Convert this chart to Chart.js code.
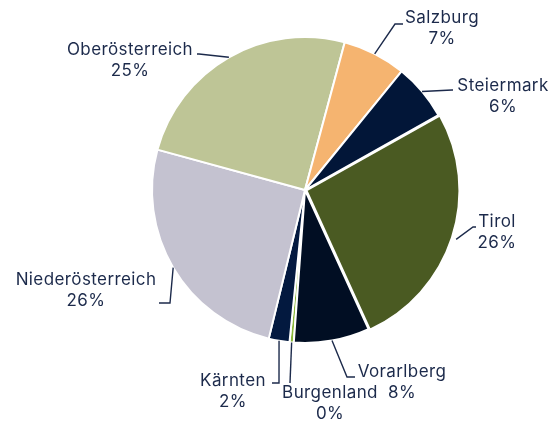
<!DOCTYPE html>
<html>
<head>
<meta charset="utf-8">
<script src="https://cdn.jsdelivr.net/npm/chart.js@4"></script>
<style>
  html, body { margin: 0; padding: 0; background: #fff; }
  #wrap { width: 560px; height: 421px; }
</style>
</head>
<body>
<div id="wrap"><canvas id="pieChart" width="560" height="421"></canvas></div>
<script>
const regions = ['Burgenland', 'Kärnten', 'Niederösterreich', 'Oberösterreich', 'Salzburg', 'Steiermark', 'Tirol', 'Vorarlberg'];
const shares = [0.45, 2.2, 25.5, 25, 6.7, 6, 26.4, 8];
const shareLabels = ['0%', '2%', '26%', '25%', '7%', '6%', '26%', '8%'];

const sliceColors = ['#8bb83a', '#03193f', '#c4c2d0', '#bec596', '#f5b470', '#021638', '#4a5a22', '#010e23'];
const textColor = '#1c2a4b';

// where each label sits: elbow of leader line, end of leader, text centre
const labelLayout = [
  { elbow: [290, 383], end: [290, 383], text: [330, 393] },
  { elbow: [279, 383], end: [272, 383], text: [233, 381] },
  { elbow: [170, 303], end: [159, 303], text: [86, 280] },
  { elbow: [199, 54], end: [197, 54], text: [130, 50] },
  { elbow: [395, 24], end: [403, 24], text: [442, 18] },
  { elbow: [452, 90], end: [453, 90], text: [503, 86] },
  { elbow: [473, 227], end: [476, 227], text: [497, 222] },
  { elbow: [347, 377], end: [355, 377], text: [402, 372] }
];

const leaderLabels = {
  id: 'leaderLabels',
  afterDatasetsDraw(chart) {
    const ctx = chart.ctx;
    const arcs = chart.getDatasetMeta(0).data;
    ctx.save();
    arcs.forEach((arc, i) => {
      const p = arc.getProps(['x', 'y', 'startAngle', 'endAngle', 'outerRadius'], true);
      const mid = (p.startAngle + p.endAngle) / 2;
      const off = arc.options.offset || 0;
      const sx = p.x + Math.cos(mid) * (p.outerRadius + off);
      const sy = p.y + Math.sin(mid) * (p.outerRadius + off);
      const lay = labelLayout[i];
      ctx.strokeStyle = textColor;
      ctx.lineWidth = 1.4;
      ctx.beginPath();
      ctx.moveTo(sx, sy);
      ctx.lineTo(lay.elbow[0], lay.elbow[1]);
      ctx.lineTo(lay.end[0], lay.end[1]);
      ctx.stroke();

      ctx.fillStyle = textColor;
      ctx.font = '17px Inter, sans-serif';
      ctx.letterSpacing = '0.4px';
      ctx.textAlign = 'center';
      ctx.textBaseline = 'middle';
      ctx.fillText(regions[i], lay.text[0], lay.text[1]);
      ctx.fillText(shareLabels[i], lay.text[0], lay.text[1] + 21);
    });
    ctx.restore();
  }
};

window.addEventListener('DOMContentLoaded', () => {
  const ctx = document.getElementById('pieChart').getContext('2d');
  new Chart(ctx, {
    type: 'pie',
    data: {
      labels: regions,
      datasets: [{
        data: shares,
        backgroundColor: sliceColors,
        borderColor: '#fff',
        borderWidth: 2,
        offset: regions.map(r => r === 'Tirol' ? 6 : 0),
        hoverOffset: 0
      }]
    },
    options: {
      responsive: false,
      animation: false,
      radius: 153,
      rotation: 184.2,
      layout: { padding: { left: 50, right: 0, top: 0, bottom: 41 } },
      plugins: {
        legend: { display: false },
        tooltip: { enabled: false }
      },
      events: []
    },
    plugins: [leaderLabels]
  });
});
</script>
</body>
</html>
